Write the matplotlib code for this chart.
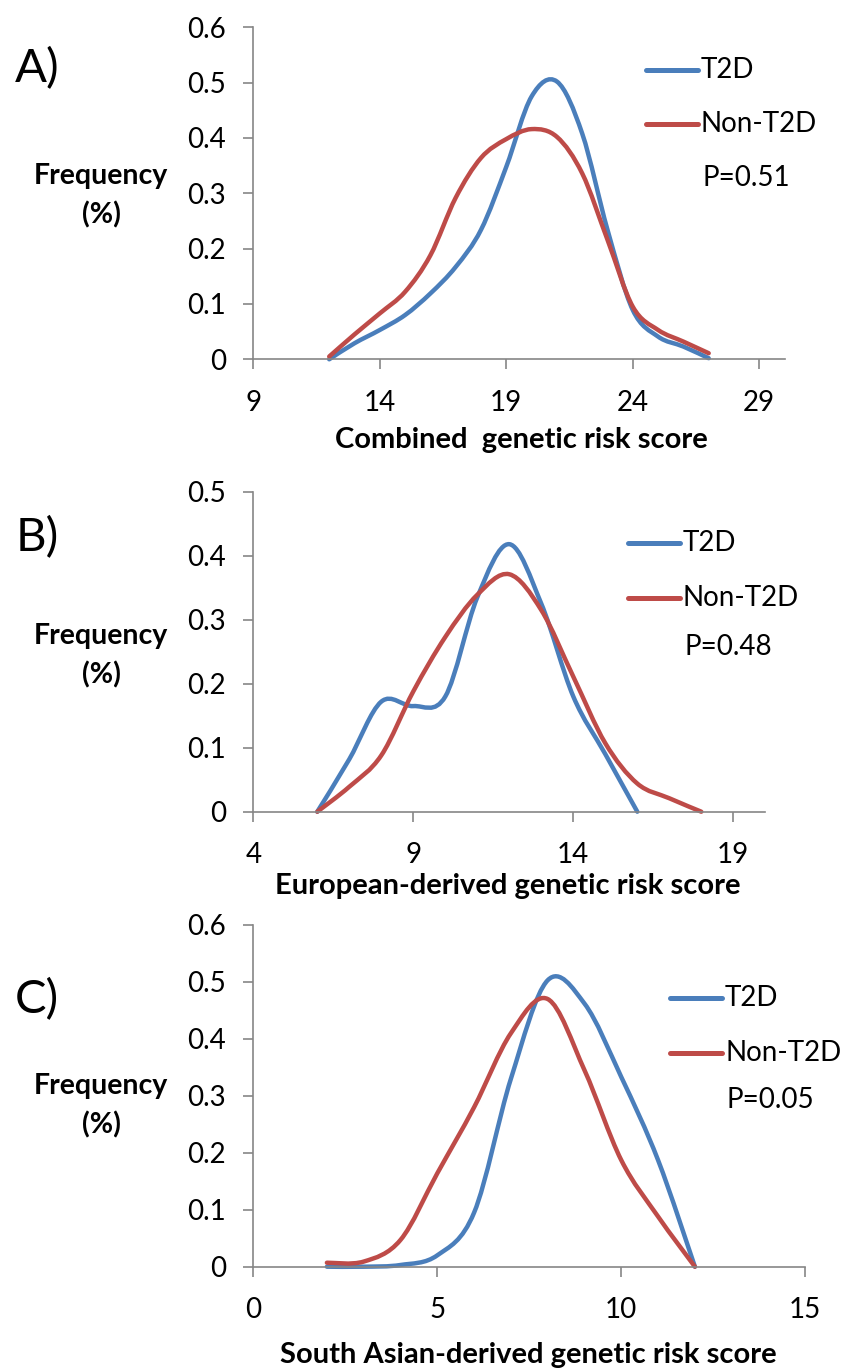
import numpy as np
import matplotlib
matplotlib.use('Agg')
import matplotlib.pyplot as plt
from matplotlib.path import Path
from matplotlib.patches import PathPatch
from matplotlib.lines import Line2D

plt.rcParams['font.family'] = ['Lato', 'DejaVu Sans']

# ---- data ----
a_x_t2d = [12, 13, 14, 15, 16, 17, 18, 19, 20, 21, 22, 23, 24, 25, 26, 27]
a_t2d = [0.0, 0.029, 0.053, 0.080, 0.119, 0.167, 0.234, 0.348, 0.475, 0.502, 0.408, 0.234, 0.089, 0.041, 0.023, 0.002]
a_x_non = [12, 13, 14, 15, 16, 17, 18, 19, 20, 21, 22, 23, 24, 25, 26, 27]
a_non = [0.005, 0.045, 0.083, 0.122, 0.188, 0.292, 0.364, 0.398, 0.416, 0.402, 0.336, 0.216, 0.095, 0.053, 0.032, 0.011]

b_x_t2d = [6, 7, 8, 9, 10, 11, 12, 13, 14, 15, 16]
b_t2d = [0.0, 0.082, 0.172, 0.165, 0.180, 0.335, 0.418, 0.325, 0.180, 0.090, 0.0]
b_x_non = [6, 7, 8, 9, 10, 11, 12, 13, 14, 15, 16, 17, 18]
b_non = [0.0, 0.039, 0.088, 0.188, 0.273, 0.339, 0.371, 0.315, 0.211, 0.107, 0.044, 0.021, 0.0]

c_x_t2d = [2, 3, 4, 5, 6, 7, 8, 9, 10, 11, 12]
c_t2d = [0.0, 0.0, 0.003, 0.020, 0.095, 0.330, 0.503, 0.462, 0.333, 0.187, 0.0]
c_x_non = [2, 3, 4, 5, 6, 7, 8, 9, 10, 11, 12]
c_non = [0.007, 0.009, 0.047, 0.164, 0.280, 0.410, 0.470, 0.345, 0.187, 0.088, 0.0]

a_xticks = [9, 14, 19, 24, 29]
b_xticks = [4, 9, 14, 19]
c_xticks = [0, 5, 10, 15]
a_yticks = [0, 0.1, 0.2, 0.3, 0.4, 0.5, 0.6]
b_yticks = [0, 0.1, 0.2, 0.3, 0.4, 0.5]
c_yticks = [0, 0.1, 0.2, 0.3, 0.4, 0.5, 0.6]

BLUE = '#4A7EBB'
RED = '#BE4B48'
GREY = '#868686'

W, H = 845, 1371
fig = plt.figure(figsize=(W / 100, H / 100), dpi=100)


def fx(px):
    return px / W


def fy(py):
    return 1 - py / H


def smooth(ax, xs, ys, color):
    # Excel-style smoothed line: cubic bezier through the points
    pts = np.column_stack([xs, ys]).astype(float)
    n = len(pts)
    verts = [pts[0]]
    codes = [Path.MOVETO]
    for i in range(n - 1):
        p0 = pts[max(i - 1, 0)]
        p1 = pts[i]
        p2 = pts[i + 1]
        p3 = pts[min(i + 2, n - 1)]
        verts += [p1 + (p2 - p0) / 6, p2 - (p3 - p1) / 6, p2]
        codes += [Path.CURVE4] * 3
    ax.add_patch(PathPatch(Path(verts, codes), fill=False, edgecolor=color,
                           lw=3.2, capstyle='round', joinstyle='round', clip_on=False))


def panel(rect, xlim, ylim, xticks, yticks, series, letter, letter_y, xlabel, xlabel_x,
          xlabel_y, freq_y, leg_x, leg_ys, pval):
    ax = fig.add_axes(rect)
    for xs, ys, c in series:
        smooth(ax, xs, ys, c)
    ax.set_xlim(*xlim)
    ax.set_ylim(*ylim)
    ax.set_xticks(xticks)
    ax.set_xticklabels([str(t) for t in xticks])
    ax.set_yticks(yticks)
    ax.set_yticklabels(['0' if t == 0 else f'{t:.1f}' for t in yticks])
    for s in ['top', 'right']:
        ax.spines[s].set_visible(False)
    for s in ['left', 'bottom']:
        ax.spines[s].set_color(GREY)
        ax.spines[s].set_linewidth(1.2)
    ax.tick_params(axis='both', direction='out', length=7.5, width=1.2, color=GREY,
                   labelsize=20, labelcolor='black')
    ax.tick_params(axis='x', pad=14.5)
    ax.tick_params(axis='y', pad=12)

    fig.text(fx(37), fy(letter_y), letter, fontsize=34, ha='center', va='center')
    fig.text(fx(101), fy(freq_y), 'Frequency', fontsize=20.5, fontweight='bold',
             ha='center', va='center')
    fig.text(fx(101), fy(freq_y + 39), '(%)', fontsize=20.5, fontweight='bold',
             ha='center', va='center')
    fig.text(fx(xlabel_x), fy(xlabel_y), xlabel, fontsize=21, fontweight='bold',
             ha='center', va='center')

    # legend drawn like the Excel one
    for (lab, c), yy in zip([('T2D', BLUE), ('Non-T2D', RED)], leg_ys[:2]):
        fig.add_artist(Line2D([fx(leg_x), fx(leg_x + 52)], [fy(yy), fy(yy)],
                              color=c, lw=3.6, solid_capstyle='round'))
        fig.text(fx(leg_x + 55), fy(yy), lab, fontsize=20, ha='left', va='center')
    fig.text(fx(leg_x + 57), fy(leg_ys[2]), pval, fontsize=20, ha='left', va='center')
    return ax


panel([fx(253.3), fy(359.3), (784.6 - 253.3) / W, (359.3 - 27.3) / H],
      (9, 30), (0, 0.6), a_xticks, a_yticks,
      [(a_x_t2d, a_t2d, BLUE), (a_x_non, a_non, RED)],
      'A)', 69, 'Combined  genetic risk score', 521, 440, 176,
      646, [70, 124, 178], 'P=0.51')

panel([fx(253.3), fy(811.7), (765.3 - 253.3) / W, (811.7 - 491.7) / H],
      (4, 20), (0, 0.5), b_xticks, b_yticks,
      [(b_x_t2d, b_t2d, BLUE), (b_x_non, b_non, RED)],
      'B)', 538, 'European-derived genetic risk score', 508, 886, 636,
      628, [543, 598, 647], 'P=0.48')

panel([fx(253.3), fy(1266.7), (805.3 - 253.3) / W, (1266.7 - 925) / H],
      (0, 15), (0, 0.6), c_xticks, c_yticks,
      [(c_x_t2d, c_t2d, BLUE), (c_x_non, c_non, RED)],
      'C)', 1000, 'South Asian-derived genetic risk score', 528, 1355, 1086,
      670, [998, 1053, 1100], 'P=0.05')

fig.savefig('out.png', dpi=100)
